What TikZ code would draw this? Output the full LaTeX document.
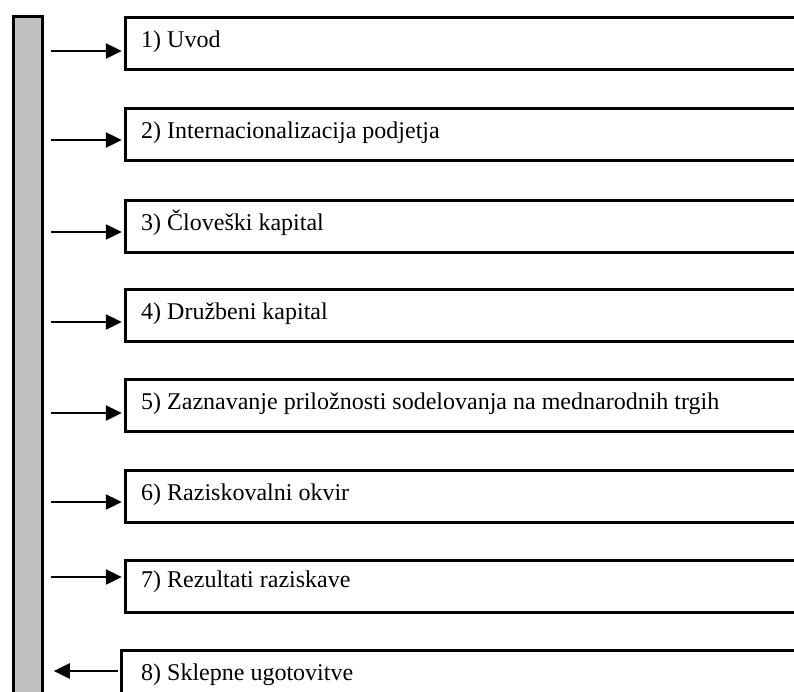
\documentclass[tikz,border=0pt]{standalone}
\usepackage{fontspec}
\setmainfont{Liberation Serif}
\usetikzlibrary{arrows.meta}
\definecolor{bargray}{RGB}{192,192,192}
\begin{document}
\begin{tikzpicture}[x=1pt,y=-1pt,
  spine/.style={draw, line width=3.5pt, fill=bargray, minimum width=29pt,
    minimum height=720pt, anchor=north, inner sep=0pt},
  topic/.style={draw, line width=3.5pt, fill=white, anchor=north west,
    minimum width=760pt, minimum height=52pt, inner sep=0pt},
  lbl/.style={anchor=base west, inner sep=0pt, font=\fontsize{24}{28}\selectfont},
  link/.style={line width=2.5pt, -{Triangle[length=16pt,width=15pt]}},
  inlink/.style={link, shorten <=7pt, shorten >=1.75pt},
]
\useasboundingbox (0,0) rectangle (794,691);
\clip (0,0) rectangle (794,691);

% vertical spine
\node[spine] (bar) at (28,14.5) {};

% chapter boxes
\node[topic] (b1) at (123.5,15.5) {};
\node[topic] (b2) at (123.5,106.5) {};
\node[topic] (b3) at (123.5,198.5) {};
\node[topic] (b4) at (123.5,287.5) {};
\node[topic] (b5) at (123.5,377.5) {};
\node[topic] (b6) at (123.5,468.5) {};
\node[topic] (b7) at (123.5,558.5) {};
\node[topic, minimum height=100pt] (b8) at (119.5,648.5) {};

% chapter titles
\node[lbl] (t1) at (141,47) {1) Uvod};
\node[lbl] (t2) at (141,138) {2) Internacionalizacija podjetja};
\node[lbl] (t3) at (141,230) {3) Človeški kapital};
\node[lbl] (t4) at (141,319) {4) Družbeni kapital};
\node[lbl] (t5) at (141,409) {5) Zaznavanje priložnosti sodelovanja na mednarodnih trgih};
\node[lbl] (t6) at (141,500) {6) Raziskovalni okvir};
\node[lbl] (t7) at (141,587) {7) Rezultati raziskave};
\node[lbl] (t8) at (141,680) {8) Sklepne ugotovitve};

% arrow heights
\coordinate (y1) at (0,51);
\coordinate (y2) at (0,140);
\coordinate (y3) at (0,232);
\coordinate (y4) at (0,322);
\coordinate (y5) at (0,413);
\coordinate (y6) at (0,502);
\coordinate (y7) at (0,577);
\coordinate (y8) at (0,671);

% connectors
\draw[inlink] (bar.east |- y1) -- (b1.west |- y1);
\draw[inlink] (bar.east |- y2) -- (b2.west |- y2);
\draw[inlink] (bar.east |- y3) -- (b3.west |- y3);
\draw[inlink] (bar.east |- y4) -- (b4.west |- y4);
\draw[inlink] (bar.east |- y5) -- (b5.west |- y5);
\draw[inlink] (bar.east |- y6) -- (b6.west |- y6);
\draw[inlink] (bar.east |- y7) -- (b7.west |- y7);
\draw[link, shorten <=1.75pt, shorten >=9.5pt] (b8.west |- y8) -- (bar.east |- y8);
\end{tikzpicture}
\end{document}
